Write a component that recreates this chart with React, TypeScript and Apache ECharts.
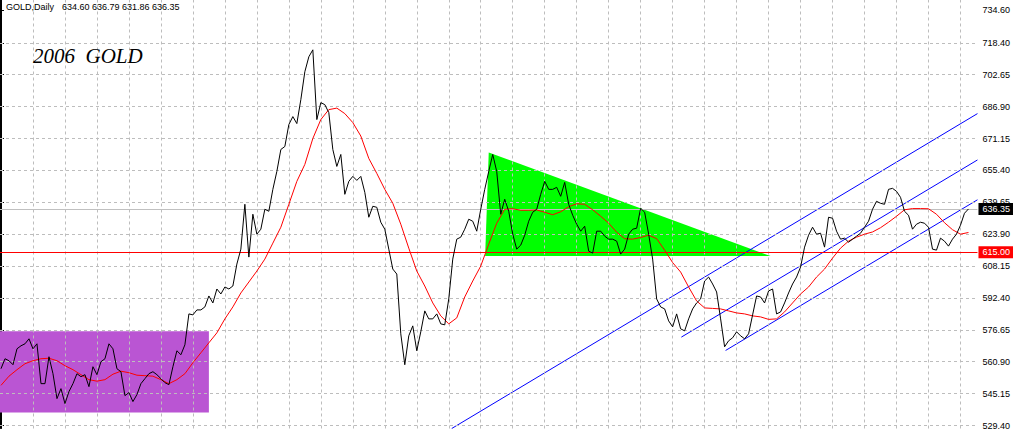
import React, { useEffect, useRef } from "react";
import * as echarts from "echarts";

// Daily closes, one per bar (bar index = position in array)
const closes: number[] = [
  557.45, 562.37, 561.39, 559.42, 567.29, 568.77, 569.75, 572.22, 567.29, 569.75,
  550.07, 550.07, 563.36, 554.99, 542.68, 547.61, 540.22, 546.13, 550.07, 554.99,
  553.51, 554.5, 548.59, 558.43, 554.5, 560.89, 562.37, 569.75, 567.29, 557.45,
  555.97, 544.16, 545.64, 541.21, 544.65, 550.07, 552.53, 554.99, 555.97, 554.5,
  552.53, 550.56, 549.57, 558.43, 566.31, 564.34,
  569.26, 584.52, 584.03, 586.49, 586.49, 587.97, 593.38, 589.93, 596.82, 594.36,
  597.81, 596.82, 598.3, 609.13, 616.51, 638.66, 612.58, 633.74, 623.9, 626.36,
  636.2, 635.22, 646.04, 654.9, 665.73, 667.21, 678.04, 681.97, 678.53, 690.34,
  704.12, 711.51, 714.95, 680.5, 688.86, 687.88, 683.94, 665.73, 657.36, 663.27,
  643.58, 649.98, 652.44, 650.47, 652.44, 644.57, 632.26, 637.68, 637.18, 629.8,
  626.36, 616.51, 606.67, 604.21, 574.68, 559.42, 573.69, 578.61, 566.31, 575.66,
  586.0, 582.06, 582.06, 584.52, 579.6, 579.11, 591.9, 611.59, 621.43, 622.42,
  626.36, 631.28, 630.29, 625.37, 636.2, 646.04, 654.9, 663.27, 654.9, 633.74,
  641.12, 635.22, 623.9, 616.51, 618.48, 623.4, 630.29, 634.72, 636.2, 643.58,
  649.98, 646.04, 646.04, 647.03, 642.6, 649.49, 638.66, 633.25, 628.82, 625.37,
  627.83, 615.53, 614.54, 625.37, 625.37, 622.91, 621.43, 621.43, 620.45, 614.05,
  616.51, 623.9, 626.36, 626.85, 636.69, 634.72, 623.9, 611.59, 591.9, 587.97,
  586.98, 581.07, 578.12, 584.52, 577.14, 576.15, 582.06, 586.98, 589.93, 591.9,
  600.76, 602.73, 599.29, 595.35, 582.06, 568.28, 571.23, 572.71, 575.66, 573.69,
  572.22, 574.68, 584.03, 593.38, 592.89, 589.93, 595.84, 596.82, 584.52, 585.5,
  589.93, 594.86, 599.29, 602.73, 607.65, 617.5, 623.4, 627.34, 623.9, 624.39,
  617.5, 632.26, 631.77, 625.37, 621.43, 621.93, 619.96, 621.43, 622.91, 624.39,
  627.34, 630.29, 636.2, 640.14, 639.15, 638.66, 646.04, 646.54, 645.06, 642.11,
  635.22, 633.25, 626.36, 628.82, 629.8, 629.31, 627.34, 616.51, 616.02, 621.93,
  620.45, 617.99, 621.43, 623.9, 628.32, 634.23, 636.35,
];

// Moving average, read at every 2nd bar (bars 0, 2, 4, ...)
const MA_STEP = 2;
const maValues: number[] = [
  549.23, 553.76, 556.96, 559.91, 561.39, 562.37, 562.62, 561.39, 558.93, 556.96,
  554.5, 552.04, 551.3, 552.04, 554.74, 556.22, 555.48, 554.25, 554.0, 553.76,
  552.04, 550.07, 552.04, 554.99, 560.4, 565.32, 570.25, 575.17, 582.06, 587.97,
  594.86, 600.27, 605.68, 611.59, 619.47, 627.34, 638.66, 649.98, 658.35, 671.15,
  680.5, 685.42, 686.16, 683.45, 679.02, 672.38, 661.3, 653.92, 646.04, 639.15,
  628.82, 617.0, 605.68, 598.3, 589.93, 583.54, 579.6, 582.55, 592.89, 600.76,
  608.15, 618.97, 629.31, 636.2, 636.45, 635.71, 635.71, 635.86, 634.72, 633.49,
  634.97, 637.43, 638.91, 638.66, 635.95, 632.75, 629.31, 624.88, 621.68, 621.43,
  622.27, 623.4, 621.68, 616.02, 609.87, 605.19, 597.81, 590.92, 587.47, 587.23,
  586.98, 586.0, 585.01, 584.52, 583.54, 583.04, 581.81, 582.06, 585.5, 589.93,
  594.36, 597.81, 602.73, 606.67, 612.08, 617.0, 620.45, 622.42, 623.9, 624.98,
  627.09, 629.8, 632.75, 635.95, 636.54, 636.54, 636.45, 633.74, 629.56, 626.11,
  623.9, 624.73,
];

const yTickLabels: number[] = [
  529.4, 545.15, 560.9, 576.65, 592.4, 608.15, 623.9, 639.65, 655.4, 671.15,
  686.9, 702.65, 718.4, 734.6,
];
const gridPrices: number[] = yTickLabels.slice(0, yTickLabels.length - 1);
const GRID_BAR_STEP = 8;

const bidPrice = 636.35;
const levelPrice = 615.0;

const titleText = "GOLD,Daily";
const ohlcText = "634.60 636.79 631.86 636.35";
const chartLabel = "2006  GOLD";

// Drawn objects, in (bar index, price)
const rectBars: number[] = [-1, 52];
const rectPrices: number[] = [575.91, 535.79];
const triBars: number[] = [122, 121.1, 192.5];
const triPrices: number[] = [664.26, 613.07, 613.07];
const channelA: number[][] = [[112.75, 527.92], [244.25, 683.45]];
const channelB: number[][] = [[170.18, 573.05], [244.25, 660.56]];
const channelC: number[][] = [[181.25, 566.46], [244.25, 640.88]];

const Y_MIN = 527.92;
const Y_MAX = 739.56;
const X_MIN = -0.25;
const X_MAX = 244.25;

const FONT = "Liberation Sans";

export default function App() {
  const ref = useRef<HTMLDivElement>(null);

  useEffect(() => {
    if (!ref.current) return;
    const chart = echarts.init(ref.current, undefined, { renderer: "svg" });

    const vGrid: any[] = [];
    for (let b = GRID_BAR_STEP; b < X_MAX; b += GRID_BAR_STEP) vGrid.push({ xAxis: b });
    const hGrid: any[] = gridPrices.map((p) => ({ yAxis: p }));

    const option: any = {
      animation: false,
      backgroundColor: "#ffffff",
      grid: { left: 0, top: 0, width: 978, height: 430, containLabel: false },
      xAxis: {
        type: "value",
        min: X_MIN,
        max: X_MAX,
        show: false,
      },
      yAxis: [
        {
          type: "value",
          min: Y_MIN,
          max: Y_MAX,
          position: "right",
          axisLine: { show: true, lineStyle: { color: "#000", width: 1 } },
          axisTick: {
            show: true,
            customValues: yTickLabels,
            length: 3,
            lineStyle: { color: "#000" },
          },
          axisLabel: {
            show: true,
            customValues: yTickLabels,
            formatter: (v: number) => v.toFixed(2),
            color: "#000",
            fontSize: 9,
            fontFamily: FONT,
            margin: 5,
          },
          splitLine: { show: false },
        },
        {
          type: "value",
          min: Y_MIN,
          max: Y_MAX,
          position: "left",
          axisLine: { show: true, lineStyle: { color: "#000", width: 1 } },
          axisTick: { show: false },
          axisLabel: { show: false },
          splitLine: { show: false },
        },
      ],
      graphic: [
        {
          type: "text",
          x: 6,
          y: 7,
          z: 100,
          style: {
            text: titleText,
            fill: "#000",
            fontSize: 9,
            fontFamily: FONT,
            verticalAlign: "middle",
          },
        },
        {
          type: "text",
          x: 62,
          y: 7,
          z: 100,
          style: {
            text: ohlcText,
            fill: "#000",
            fontSize: 9,
            fontFamily: FONT,
            verticalAlign: "middle",
          },
        },
        {
          type: "text",
          x: 33,
          y: 55.5,
          z: 100,
          style: {
            text: chartLabel,
            fill: "#000",
            fontSize: 21,
            fontStyle: "italic",
            fontFamily: "Liberation Serif",
            verticalAlign: "middle",
          },
        },
      ],
      series: [
        {
          name: "rect",
          type: "custom",
          z: 1,
          silent: true,
          clip: true,
          data: [[0, 600]],
          renderItem: (_p: any, api: any) => {
            const a = api.coord([rectBars[0], rectPrices[0]]);
            const b = api.coord([rectBars[1], rectPrices[1]]);
            return {
              type: "rect",
              shape: { x: a[0], y: a[1], width: b[0] - a[0], height: b[1] - a[1] },
              style: { fill: "#BA55D3" },
            };
          },
        },
        {
          name: "triangle",
          type: "custom",
          z: 1,
          silent: true,
          clip: true,
          data: [[0, 600]],
          renderItem: (_p: any, api: any) => {
            const pts = triBars.map((b, k) => api.coord([b, triPrices[k]]));
            return {
              type: "polygon",
              shape: { points: pts },
              style: { fill: "#00FF00" },
            };
          },
        },
        {
          name: "grid",
          type: "line",
          z: 2,
          data: [],
          silent: true,
          markLine: {
            silent: true,
            symbol: ["none", "none"],
            label: { show: false },
            lineStyle: { color: "#BDBDBD", type: [3, 3], width: 1 },
            data: [...vGrid, ...hGrid],
          },
        },
        {
          name: "levels",
          type: "line",
          z: 3,
          data: [],
          silent: true,
          markLine: {
            silent: true,
            symbol: ["none", "none"],
            data: [
              {
                yAxis: bidPrice,
                lineStyle: { color: "#C0C0C0", type: "solid", width: 1 },
                label: {
                  show: true,
                  position: "end",
                  distance: 1,
                  formatter: bidPrice.toFixed(2),
                  color: "#fff",
                  backgroundColor: "#000",
                  padding: [2, 4, 1, 4],
                  fontSize: 9,
                  fontFamily: FONT,
                },
              },
              {
                yAxis: levelPrice,
                lineStyle: { color: "#FF0000", type: "solid", width: 1 },
                label: {
                  show: true,
                  position: "end",
                  distance: 1,
                  formatter: levelPrice.toFixed(2),
                  color: "#fff",
                  backgroundColor: "#FF0000",
                  padding: [2, 4, 1, 4],
                  fontSize: 9,
                  fontFamily: FONT,
                },
              },
            ],
          },
        },
        ...[channelA, channelB, channelC].map((d, k) => ({
          name: "channel" + k,
          type: "line",
          z: 4,
          data: d,
          showSymbol: false,
          symbol: "none",
          clip: true,
          silent: true,
          lineStyle: { color: "#0000FF", width: 1 },
        })),
        {
          name: "MA",
          type: "line",
          z: 5,
          data: maValues.map((v, k) => [k * MA_STEP, v]),
          showSymbol: false,
          symbol: "none",
          clip: true,
          silent: true,
          lineStyle: { color: "#FF0000", width: 1 },
        },
        {
          name: "GOLD",
          type: "line",
          z: 6,
          data: closes.map((v, i) => [i, v]),
          showSymbol: false,
          symbol: "none",
          clip: true,
          silent: true,
          lineStyle: { color: "#000000", width: 1 },
        },
      ],
    };

    chart.setOption(option);
    return () => chart.dispose();
  }, []);

  return (
    <div
      ref={ref}
      style={{ position: "fixed", left: 0, top: 0, width: 1013, height: 430, background: "#fff" }}
    />
  );
}
